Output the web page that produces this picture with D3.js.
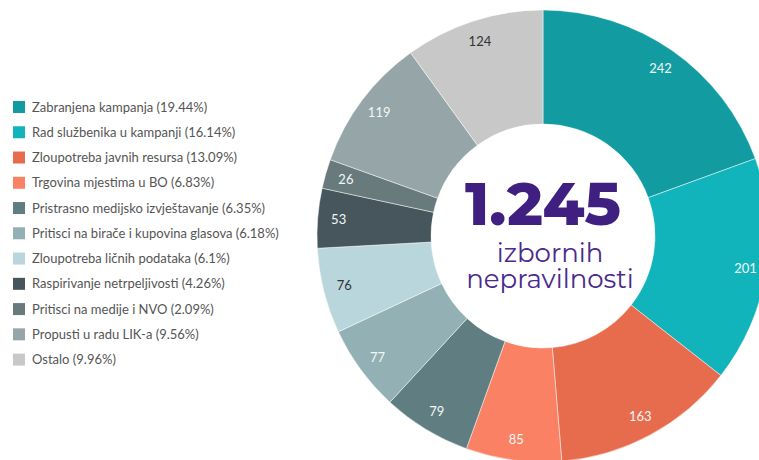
<!DOCTYPE html>
<html>
<head>
<meta charset="utf-8">
<script src="https://cdn.jsdelivr.net/npm/d3@7"></script>
<style>
  body { margin: 0; background: #fff; }
  svg { display: block; }
</style>
</head>
<body>
<div id="chart"></div>
<script>
// categories, values, colours
const categories = ["Zabranjena kampanja", "Rad službenika u kampanji", "Zloupotreba javnih resursa",
    "Trgovina mjestima u BO", "Pristrasno medijsko izvještavanje", "Pritisci na birače i kupovina glasova",
    "Zloupotreba ličnih podataka", "Raspirivanje netrpeljivosti", "Pritisci na medije i NVO",
    "Propusti u radu LIK-a", "Ostalo"];
const values = [242, 201, 163, 85, 79, 77, 76, 53, 26, 119, 124];
const percents = ["19.44%", "16.14%", "13.09%", "6.83%", "6.35%", "6.18%", "6.1%", "4.26%", "2.09%", "9.56%", "9.96%"];
const colors = ["#129ca1", "#12b4bc", "#e76c4d", "#fa8163", "#607e82", "#93b0b5", "#b8d6db",
    "#47565c", "#697a7c", "#96a5a8", "#c8c8c8"];
const darkLabels = ["Zloupotreba ličnih podataka", "Ostalo"];
const totalLabel = "1.245";
const subLines = ["izbornih", "nepravilnosti"];

const width = 759, height = 460;
const params = { cx: 543, cy: 236, outer: 226, inner: 112, labelR: 205 };

let svg = d3.select("#chart").append("svg")
    .attr("width", width)
    .attr("height", height);

let data = categories.map((c, i) => ({ name: c, value: values[i], pct: percents[i] }));

let color = d3.scaleOrdinal().domain(categories).range(colors);

let pie = d3.pie().sort(null).value(d => d.value);
let arc = d3.arc().innerRadius(params.inner).outerRadius(params.outer);
let labelArc = d3.arc().innerRadius(params.labelR).outerRadius(params.labelR);

let g = svg.append("g").attr("transform", `translate(${params.cx}, ${params.cy})`);

g.selectAll(".slice")
    .data(pie(data))
    .enter().append("path")
    .attr("class", "slice")
    .attr("d", arc)
    .attr("fill", d => color(d.data.name))
    .attr("stroke", "#ffffff")
    .attr("stroke-opacity", 0.6)
    .attr("stroke-width", 0.8);

g.selectAll(".val")
    .data(pie(data))
    .enter().append("text")
    .attr("class", "val")
    .attr("transform", d => `translate(${labelArc.centroid(d)})`)
    .attr("text-anchor", "middle")
    .attr("dy", "0.35em")
    .attr("font-family", "Lato, sans-serif")
    .attr("font-size", 13)
    .attr("fill", d => darkLabels.includes(d.data.name) ? "#333333" : "#f2f7f7")
    .text(d => d.data.value);

// centre text
g.append("text")
    .attr("text-anchor", "middle")
    .attr("y", -11)
    .attr("font-family", "Montserrat, 'Open Sans', sans-serif")
    .attr("font-weight", 800)
    .attr("font-size", 60)
    .attr("letter-spacing", 0)
    .attr("fill", "#3f1f80")
    .text(totalLabel);

g.selectAll(".sub")
    .data(subLines)
    .enter().append("text")
    .attr("class", "sub")
    .attr("text-anchor", "middle")
    .attr("x", 7)
    .attr("y", (d, i) => 26 + i * 26)
    .attr("font-family", "Montserrat, 'Open Sans', sans-serif")
    .attr("font-size", 26)
    .attr("fill", "#4a2a8c")
    .text(d => d);

// legend
let legend = svg.append("g").attr("transform", "translate(13, 101)");
let rows = legend.selectAll(".row")
    .data(data)
    .enter().append("g")
    .attr("class", "row")
    .attr("transform", (d, i) => `translate(0, ${i * 25.26})`);

rows.append("rect")
    .attr("width", 12)
    .attr("height", 12)
    .attr("fill", d => color(d.name));

rows.append("text")
    .attr("x", 19)
    .attr("y", 6)
    .attr("dy", "0.35em")
    .attr("font-family", "Lato, sans-serif")
    .attr("font-size", 13)
    .attr("fill", "#555555")
    .text(d => `${d.name} (${d.pct})`);
</script>
</body>
</html>
